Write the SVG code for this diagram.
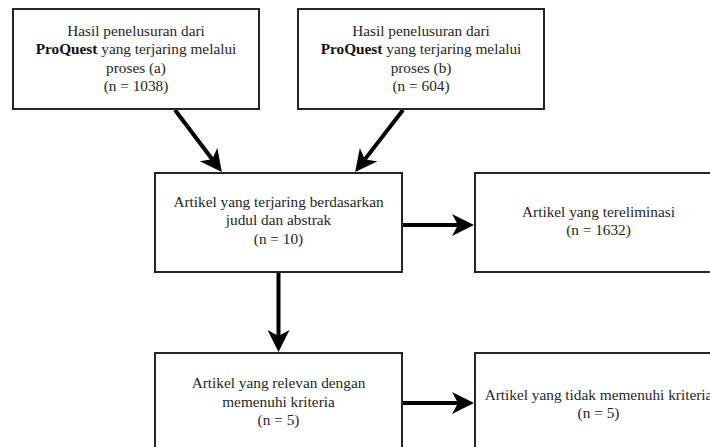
<svg xmlns="http://www.w3.org/2000/svg" width="710" height="447" viewBox="0 0 710 447">
  <defs>
    <style>
      .box { fill: #ffffff; stroke: #262626; stroke-width: 2; }
      .lbl { font-family: "Liberation Serif", "Times New Roman", serif; font-size: 15.3px; fill: #262626; text-anchor: middle; }
      .b { font-weight: bold; fill: #111; }
      .conn { fill: none; stroke: #000; stroke-width: 4; }
    </style>
    <marker id="arrow" markerUnits="userSpaceOnUse" markerWidth="24" markerHeight="24" refX="6" refY="11" orient="auto">
      <path d="M0,0 L22,11 L0,22 L6,11 Z" fill="#000"/>
    </marker>
  </defs>
  <rect width="710" height="447" fill="#ffffff"/>

  <g id="connectors">
    <line class="conn" x1="175" y1="110" x2="212.2" y2="159.3" marker-end="url(#arrow)"/>
    <line class="conn" x1="403" y1="110" x2="364.9" y2="159.4" marker-end="url(#arrow)"/>
    <line class="conn" x1="402" y1="225" x2="458" y2="225" marker-end="url(#arrow)"/>
    <line class="conn" x1="278.5" y1="272" x2="278.5" y2="336" marker-end="url(#arrow)"/>
    <line class="conn" x1="401" y1="403" x2="458" y2="403" marker-end="url(#arrow)"/>
  </g>

  <g id="node-a">
    <rect class="box" x="13" y="9" width="246" height="100"/>
    <text class="lbl" x="136" y="35.5">Hasil penelusuran dari</text>
    <text class="lbl" x="136" y="54"><tspan class="b">ProQuest</tspan> yang terjaring melalui</text>
    <text class="lbl" x="136" y="72.5">proses (a)</text>
    <text class="lbl" x="136" y="91">(n = 1038)</text>
  </g>

  <g id="node-b">
    <rect class="box" x="298" y="9" width="246" height="100"/>
    <text class="lbl" x="421" y="35.5">Hasil penelusuran dari</text>
    <text class="lbl" x="421" y="54"><tspan class="b">ProQuest</tspan> yang terjaring melalui</text>
    <text class="lbl" x="421" y="72.5">proses (b)</text>
    <text class="lbl" x="421" y="91">(n = 604)</text>
  </g>

  <g id="node-c">
    <rect class="box" x="155" y="173" width="247" height="99"/>
    <text class="lbl" x="278.5" y="206.7">Artikel yang terjaring berdasarkan</text>
    <text class="lbl" x="278.5" y="225.2">judul dan abstrak</text>
    <text class="lbl" x="278.5" y="243.7">(n = 10)</text>
  </g>

  <g id="node-d">
    <rect class="box" x="475" y="173" width="246" height="99"/>
    <text class="lbl" x="598.5" y="216.7">Artikel yang tereliminasi</text>
    <text class="lbl" x="598.5" y="235.2">(n = 1632)</text>
  </g>

  <g id="node-e">
    <rect class="box" x="155" y="353" width="247" height="100"/>
    <text class="lbl" x="278.5" y="388.3">Artikel yang relevan dengan</text>
    <text class="lbl" x="278.5" y="406.8">memenuhi kriteria</text>
    <text class="lbl" x="278.5" y="425.3">(n = 5)</text>
  </g>

  <g id="node-f">
    <rect class="box" x="475" y="353" width="246" height="100"/>
    <text class="lbl" x="598.5" y="399.5">Artikel yang tidak memenuhi kriteria</text>
    <text class="lbl" x="598.5" y="418">(n = 5)</text>
  </g>
</svg>
